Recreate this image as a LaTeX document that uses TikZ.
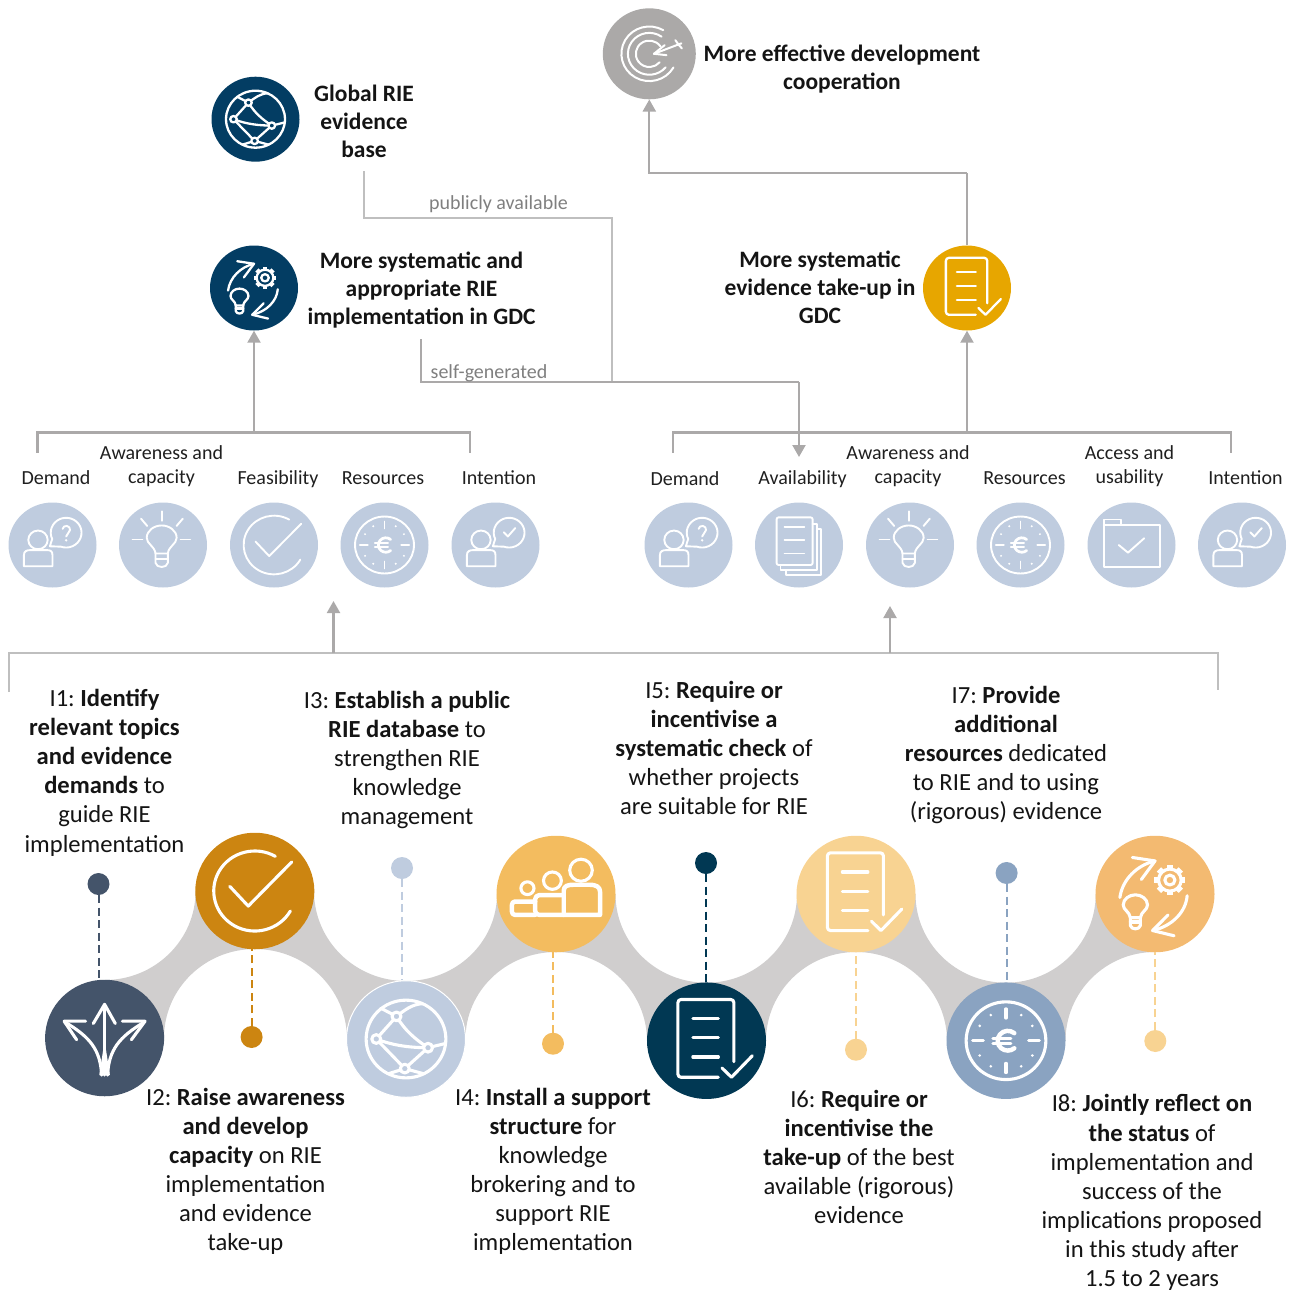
\documentclass[tikz,border=0pt]{standalone}
\usepackage{fontspec}
\setmainfont{Carlito}
\usepackage{tikz}
\usetikzlibrary{arrows.meta,shapes,positioning,calc}
\definecolor{bandgrey}{HTML}{D0CECE}
\definecolor{linegrey}{HTML}{ABA9A9}
\definecolor{thingrey}{HTML}{BFBFBF}
\definecolor{notegrey}{HTML}{7F7F7F}
\definecolor{goalgrey}{HTML}{ABA9A8}
\definecolor{navyblue}{HTML}{033D63}
\definecolor{deepblue}{HTML}{013853}
\definecolor{slateblue}{HTML}{44546A}
\definecolor{paleblue}{HTML}{BFCCDF}
\definecolor{midblue}{HTML}{8AA3C1}
\definecolor{goldyellow}{HTML}{E7A600}
\definecolor{darkamber}{HTML}{CC8511}
\definecolor{amber}{HTML}{F3BC5F}
\definecolor{paleamber}{HTML}{F8D392}
\definecolor{softorange}{HTML}{F3BA71}

\tikzset{
    pics/bulbshape/.style={code={
        \draw (-.14,-.2) .. controls (-.16,-.02) and (-.34,.02) .. (-.34,.17)
            .. controls (-.34,.34) and (-.17,.46) .. (0,.46)
            .. controls (.17,.46) and (.34,.34) .. (.34,.17)
            .. controls (.34,.02) and (.16,-.02) .. (.14,-.2) -- cycle;
        \draw (-.14,-.2) -- (-.14,-.42) .. controls (-.12,-.55) and (.12,-.55) .. (.14,-.42) -- (.14,-.2);
        \draw (-.14,-.32) -- (.14,-.32);
    }},
    pics/iconbulb/.style={code={
        \pic[transform shape] at (-.03,0) {bulbshape};
        \draw (-.03,.79) -- (-.03,.57);
        \draw (-.5,.62) -- (-.36,.45);
        \draw (.45,.62) -- (.31,.45);
        \draw (-.69,.13) -- (-.47,.13);
        \draw (.4,.13) -- (.62,.13);
    }},
    pics/iconcheck/.style={code={
        \draw (60:.69) arc[start angle=60,end angle=330,radius=.69];
        \draw (-.42,.08) -- (-.11,-.26) -- (.62,.5);
    }},
    pics/iconeuro/.style={code={
        \draw (0,0) circle[radius=.67];
        \draw (0,.55) -- (0,.39);
        \draw (0,-.55) -- (0,-.39);
        \draw (-.56,0) -- (-.38,0);
        \draw (.56,0) -- (.38,0);
        \foreach \a in {30,60,120,150,210,240,300,330}
            \fill (\a:.51) circle[radius=.025];
        \draw[line width=1.2\pgflinewidth] ($(.03,0)+(50:.17)$) arc[start angle=50,end angle=310,radius=.17];
        \draw (-.22,.04) -- (.08,.04);
        \draw (-.22,-.05) -- (.08,-.05);
    }},
    pics/personshape/.style={code={
        \draw (-.33,.12) circle[radius=.22];
        \draw (-.65,-.5) -- (-.65,-.24) .. controls (-.65,-.14) and (-.58,-.12) .. (-.5,-.12) -- (-.13,-.12)
            .. controls (-.05,-.12) and (0,-.14) .. (0,-.24) -- (0,-.5) -- cycle;
        \draw (.31,.29) ++(205:.35) arc[start angle=205,end angle=-110,radius=.35] -- (-.06,-.03) -- cycle;
    }},
    pics/iconask/.style={code={
        \pic[transform shape] {personshape};
        \draw (.23,.38) arc[start angle=170,end angle=-50,radius=.085] -- (.31,.2);
        \fill (.31,.11) circle[radius=.03];
    }},
    pics/iconwill/.style={code={
        \pic[transform shape] {personshape};
        \draw (.19,.3) -- (.28,.2) -- (.45,.4);
    }},
    pics/iconstack/.style={code={
        \draw[rounded corners=2pt] (-.51,.65) rectangle (.31,-.47);
        \draw (-.33,.43) -- (.12,.43);
        \draw (-.33,.12) -- (.12,.12);
        \draw (-.33,-.2) -- (.12,-.2);
        \draw (.31,.5) -- (.41,.5) -- (.41,-.59) -- (-.42,-.59) -- (-.42,-.47);
        \draw (.41,.38) -- (.5,.38) -- (.5,-.7) -- (-.3,-.7) -- (-.3,-.59);
    }},
    pics/iconfolder/.style={code={
        \draw (-.63,-.51) -- (-.63,.6) -- (-.24,.6) -- (-.24,.47) -- (.64,.47) -- (.64,-.51) -- cycle;
        \draw (-.63,.47) -- (-.24,.47);
        \draw (-.29,0) -- (-.08,-.18) -- (.29,.16);
    }},
    pics/icondoc/.style={code={
        \draw[rounded corners=3pt] (.46,-.36) -- (.46,.71) -- (-.48,.71) -- (-.48,-.63) -- (.2,-.63);
        \draw (-.23,.38) -- (.2,.38);
        \draw (-.23,.05) -- (.2,.05);
        \draw (-.23,-.28) -- (.2,-.28);
        \draw (.26,-.47) -- (.42,-.63) -- (.77,-.26);
    }},
    pics/icontarget/.style={code={
        \draw (60:.6) arc[start angle=60,end angle=330,radius=.6];
        \draw (55:.46) arc[start angle=55,end angle=320,radius=.46];
        \draw (35:.29) arc[start angle=35,end angle=320,radius=.29];
        \draw (.69,.23) -- (.1,0);
        \draw (.1,0) -- (.33,.19);
        \draw (.1,0) -- (.37,-.03);
        \draw (.56,.3) -- (.63,.2) -- (.7,.12);
    }},
    pics/iconglobe/.style={code={
        \draw (0,0) circle[radius=.67];
        \draw (-.16,.39) -- (-.42,.53);
        \draw (-.16,.39) .. controls (-.02,.5) and (.1,.6) .. (.28,.61);
        \draw (-.16,.39) .. controls (-.02,.15) and (.15,0) .. (.37,-.15);
        \draw (-.5,0) -- (-.16,.39);
        \draw (-.5,0) .. controls (-.2,-.12) and (.1,-.15) .. (.37,-.15);
        \draw (-.5,0) -- (-.02,-.51);
        \draw (.37,-.15) -- (-.02,-.51);
        \draw (.37,-.15) -- (.65,-.08);
        \draw (-.02,-.51) -- (-.3,-.6);
        \draw (-.02,-.51) -- (.3,-.6);
        \draw[fill=#1] (-.16,.39) circle[radius=.075];
        \draw[fill=#1] (-.5,0) circle[radius=.075];
        \draw[fill=#1] (.37,-.15) circle[radius=.075];
        \draw[fill=#1] (-.02,-.51) circle[radius=.075];
    }},
    pics/iconcycle/.style={code={
        \draw (.25,.24) circle[radius=.085];
        \draw (.25,.24) circle[radius=.19];
        \foreach \a in {0,45,...,315}
            \draw[line width=1.4\pgflinewidth,line cap=butt] ($(.25,.24)+(\a:.19)$) -- ($(.25,.24)+(\a:.26)$);
        \pic[transform shape,scale=.6] at (-.33,-.29) {bulbshape};
        \draw (-.59,-.06) .. controls (-.55,.25) and (-.3,.5) .. (0,.57);
        \draw (-.38,.63) -- (0,.57) -- (-.23,.25);
        \draw (.54,-.03) .. controls (.52,-.3) and (.3,-.55) .. (-.04,-.63);
        \draw (.22,-.36) -- (-.04,-.63) -- (.32,-.72);
    }},
    pics/iconarrows/.style={code={
        \fill (-.09,-.64) -- (.09,-.64) -- (0,-.05) -- cycle;
        \draw (0,-.64) -- (0,.58);
        \draw (-.19,.25) -- (0,.58) -- (.18,.25);
        \draw (-.05,-.64) .. controls (-.07,-.2) and (-.25,.02) .. (-.66,.27);
        \draw (.05,-.64) .. controls (.07,-.2) and (.25,.02) .. (.66,.27);
        \draw (-.32,.29) -- (-.68,.29) -- (-.47,-.03);
        \draw (.3,.29) -- (.68,.29) -- (.45,-.03);
    }},
    pics/iconpeople/.style={code={
        \draw (.42,.41) circle[radius=.19];
        \draw[line width=1.2\pgflinewidth] (.13,-.36) -- (.13,.06) .. controls (.13,.14) and (.2,.16) .. (.3,.16)
            .. controls (.38,.16) and (.46,.16) .. (.56,.16) .. controls (.68,.16) and (.74,.12) .. (.74,.04) -- (.74,-.36) -- cycle;
        \draw (-.06,.23) circle[radius=.15];
        \draw[line width=1.2\pgflinewidth,rounded corners=4pt] (.13,-.02) -- (-.35,-.02) -- (-.35,-.36) -- (.13,-.36);
        \draw (-.48,.1) circle[radius=.11];
        \draw[line width=1.2\pgflinewidth,rounded corners=3pt] (-.35,-.13) -- (-.74,-.13) -- (-.74,-.36) -- (-.35,-.36);
    }}
}

\begin{document}
\begin{tikzpicture}[
    x=1pt,y=1pt,
    blob/.style={ellipse, inner sep=0pt, minimum width=88pt, minimum height=85pt, fill=#1},
    goalblob/.style={ellipse, inner sep=0pt, minimum width=93pt, minimum height=91pt, fill=#1},
    bigblob/.style={ellipse, inner sep=0pt, minimum width=119pt, minimum height=116.5pt, fill=#1},
    dot/.style={circle, inner sep=0pt, minimum size=22pt, fill=#1},
    smallicon/.style={xscale=44, yscale=42.5, line width=1.9pt, white, line cap=round, line join=round},
    midicon/.style={xscale=44, yscale=42.5, line width=2.3pt, white, line cap=round, line join=round},
    goalicon/.style={xscale=46.5, yscale=45.5, line width=2pt, white, line cap=round, line join=round},
    bigicon/.style={xscale=59.5, yscale=58, line width=3.1pt, white, line cap=round, line join=round},
    bodytxt/.style={inner sep=0pt, yshift=-4.5pt, align=center, text=black!92, font=\fontsize{24.6}{29.1}\selectfont\frenchspacing,
        execute at begin node=\strut, execute at end node=\strut},
    headtxt/.style={inner sep=0pt, yshift=-3.8pt, align=center, text=black!92, font=\fontsize{23.5}{28}\selectfont\bfseries,
        execute at begin node=\strut, execute at end node=\strut},
    factortxt/.style={inner sep=0pt, yshift=-3pt, align=center, text=black!88, font=\fontsize{20}{24}\selectfont,
        execute at begin node=\strut, execute at end node=\strut},
    notetxt/.style={inner sep=0pt, yshift=-1.5pt, text=notegrey, font=\fontsize{20}{24}\selectfont},
    mainline/.style={draw=linegrey, line width=2.1pt},
    thinline/.style={draw=thingrey, line width=1.6pt},
    tiparrow/.style={mainline, -{Triangle[width=13pt,length=12pt]}},
    dashline/.style={draw=#1, line width=2pt, dash pattern=on 8pt off 4.5pt}
]
    \useasboundingbox (0,0) rectangle (1291,-1291);

    \fill[bandgrey] (104.6,-980) arc[start angle=270,end angle=360,x radius=91,y radius=89]
        -- (314,-891) arc[start angle=180,end angle=270,x radius=92,y radius=90]
        arc[start angle=270,end angle=360,x radius=91,y radius=87]
        -- (615.5,-894) arc[start angle=180,end angle=270,x radius=91,y radius=88.7]
        arc[start angle=270,end angle=360,x radius=90.5,y radius=88.7]
        -- (915.5,-894) arc[start angle=180,end angle=270,x radius=90.5,y radius=88.7]
        arc[start angle=270,end angle=360,x radius=89.7,y radius=88.7]
        -- (1155,-894) -- (1155,-952) arc[start angle=90,end angle=180,x radius=89.5,y radius=89]
        -- (947,-1041) arc[start angle=0,end angle=90,x radius=91,y radius=89]
        arc[start angle=90,end angle=180,x radius=90,y radius=89]
        -- (647,-1041) arc[start angle=0,end angle=90,x radius=91,y radius=89]
        arc[start angle=90,end angle=180,x radius=90.5,y radius=87]
        -- (347,-1039) arc[start angle=0,end angle=90,x radius=92.2,y radius=90]
        arc[start angle=90,end angle=180,x radius=90.8,y radius=89]
        -- (104.6,-1038) -- cycle;

    \node[goalblob=goalgrey] (goal) at (649.3,-53.8) {};
    \node[blob=navyblue] (globe) at (255.5,-119.2) {};
    \node[blob=navyblue] (impl) at (254,-288) {};
    \node[blob=goldyellow] (takeup) at (967,-288) {};
    \pic[goalicon] at (goal) {icontarget};
    \pic[midicon] at (globe) {iconglobe=navyblue};
    \pic[midicon] at (impl) {iconcycle};
    \pic[midicon] at (takeup) {icondoc};

    \node[headtxt] (goaltxt) at (842,-68) {More effective development\\cooperation};
    \node[headtxt] (globetxt) at (364,-122) {Global RIE\\evidence\\base};
    \node[headtxt] (impltxt) at (421.5,-289) {More systematic and\\appropriate RIE\\implementation in GDC};
    \node[headtxt] (takeuptxt) at (820,-288) {More systematic\\evidence take-up in\\GDC};

    \node[blob=paleblue] (la) at (52.5,-545) {};
    \node[blob=paleblue] (lb) at (163,-545) {};
    \node[blob=paleblue] (lc) at (274,-545) {};
    \node[blob=paleblue] (ld) at (384.5,-545) {};
    \node[blob=paleblue] (le) at (495.5,-545) {};
    \pic[smallicon] at (la) {iconask};
    \pic[smallicon] at (lb) {iconbulb};
    \pic[smallicon] at (lc) {iconcheck};
    \pic[smallicon] at (ld) {iconeuro};
    \pic[smallicon] at (le) {iconwill};

    \node[blob=paleblue] (ra) at (688.5,-545) {};
    \node[blob=paleblue] (rb) at (799,-545) {};
    \node[blob=paleblue] (rc) at (910,-545) {};
    \node[blob=paleblue] (rd) at (1020.5,-545) {};
    \node[blob=paleblue] (re) at (1131.5,-545) {};
    \node[blob=paleblue] (rf) at (1242,-545) {};
    \pic[smallicon] at (ra) {iconask};
    \pic[smallicon] at (rb) {iconstack};
    \pic[smallicon] at (rc) {iconbulb};
    \pic[smallicon] at (rd) {iconeuro};
    \pic[smallicon] at (re) {iconfolder};
    \pic[smallicon] at (rf) {iconwill};

    \node[factortxt] (latxt) at (56,-477) {Demand};
    \node[factortxt] (lbtxt) at (161.5,-465) {Awareness and\\capacity};
    \node[factortxt] (lctxt) at (278,-477) {Feasibility};
    \node[factortxt] (ldtxt) at (383,-477) {Resources};
    \node[factortxt] (letxt) at (499,-477) {Intention};
    \node[factortxt] (ratxt) at (685,-478) {Demand};
    \node[factortxt] (rbtxt) at (802.5,-477) {Availability};
    \node[factortxt] (rctxt) at (908,-465) {Awareness and\\capacity};
    \node[factortxt] (rdtxt) at (1024.5,-477) {Resources};
    \node[factortxt] (retxt) at (1129.5,-465) {Access and\\usability};
    \node[factortxt] (rftxt) at (1245.5,-477) {Intention};

    \coordinate (lbrkl) at (37.5,-452.5);
    \coordinate (lbrkr) at (470,-452.5);
    \coordinate (lbrkt) at (254,-432.5);
    \coordinate (rbrkl) at (673,-452.5);
    \coordinate (rbrkr) at (1231,-452.5);
    \coordinate (rbrkt) at (967,-432.5);
    \draw[mainline] (lbrkl) |- (lbrkt) -| (lbrkr);
    \draw[mainline] (rbrkl) |- (rbrkt) -| (rbrkr);
    \draw[tiparrow] (lbrkt) -- (impl.south);
    \draw[tiparrow] (rbrkt) -- (takeup.south);
    \coordinate (goalelbow) at (967,-173);
    \draw[mainline] (takeup.north) -- (goalelbow);
    \draw[tiparrow] (goalelbow) -| (goal.south);

    \coordinate (pubstart) at (364,-171);
    \coordinate (pubelbow) at (612,-218);
    \coordinate (pubend) at (612,-381);
    \draw[thinline] (pubstart) |- (pubelbow) -- (pubend);
    \node[notetxt] (pubtxt) at (498.5,-203) {publicly available};
    \coordinate (selfstart) at (421,-339);
    \coordinate (selfelbow) at (799,-382);
    \coordinate (selfend) at (799,-457);
    \draw[mainline] (selfstart) |- (selfelbow);
    \draw[tiparrow] (selfelbow) -- (selfend);
    \node[notetxt] (selftxt) at (489,-372) {self-generated};

    \coordinate (ibrkl) at (9,-692);
    \coordinate (ibrkr) at (1218,-690);
    \coordinate (ibrkt) at (333.5,-653);
    \coordinate (ibrku) at (890,-653);
    \coordinate (leftup) at (333.5,-601);
    \coordinate (rightup) at (890,-606);
    \draw[thinline] (ibrkl) |- (ibrkt) -- (ibrku) -| (ibrkr);
    \draw[tiparrow] (ibrkt) -- (leftup);
    \draw[tiparrow] (ibrku) -- (rightup);

    \node[bigblob=slateblue] (ia) at (104.6,-1038) {};
    \node[bigblob=darkamber] (ib) at (254.8,-891) {};
    \node[bigblob=paleblue, draw=white, line width=1pt] (ic) at (406,-1039) {};
    \node[bigblob=amber] (id) at (556,-894) {};
    \node[bigblob=deepblue] (ie) at (706.5,-1040.7) {};
    \node[bigblob=paleamber] (if) at (856,-894) {};
    \node[bigblob=midblue] (ig) at (1006,-1040.7) {};
    \node[bigblob=softorange] (ih) at (1155,-894) {};
    \pic[bigicon] at (ia) {iconarrows};
    \pic[bigicon] at (ib) {iconcheck};
    \pic[bigicon] at (ic) {iconglobe=paleblue};
    \pic[bigicon] at (id) {iconpeople};
    \pic[bigicon] at (ie) {icondoc};
    \pic[bigicon] at (if) {icondoc};
    \pic[bigicon] at (ig) {iconeuro};
    \pic[bigicon] at (ih) {iconcycle};

    \node[dot=slateblue] (da) at (98.5,-884) {};
    \node[dot=darkamber] (db) at (251.6,-1037) {};
    \node[dot=paleblue] (dc) at (402,-868) {};
    \node[dot=amber] (dd) at (553,-1043.7) {};
    \node[dot=deepblue] (de) at (706,-863) {};
    \node[dot=paleamber] (df) at (856,-1049.7) {};
    \node[dot=midblue] (dg) at (1006.6,-873) {};
    \node[dot=paleamber] (dh) at (1155.3,-1041) {};
    \draw[dashline=slateblue] (da) -- (da |- ia.north);
    \draw[dashline=darkamber] (db) -- (db |- ib.south);
    \draw[dashline=paleblue] (dc) -- (dc |- ic.north);
    \draw[dashline=amber] (dd) -- (dd |- id.south);
    \draw[dashline=deepblue] (de) -- (de |- ie.north);
    \draw[dashline=paleamber] (df) -- (df |- if.south);
    \draw[dashline=midblue] (dg) -- (dg |- ig.north);
    \draw[dashline=paleamber] (dh) -- (dh |- ih.south);

    \node[bodytxt] (ta) at (104.5,-770.5) {I1: \textbf{Identify}\\\textbf{relevant topics}\\\textbf{and evidence}\\\textbf{demands} to\\guide RIE\\implementation};
    \node[bodytxt] (tb) at (245.5,-1169) {I2: \textbf{Raise awareness}\\\textbf{and develop}\\\textbf{capacity} on RIE\\implementation\\and evidence\\take-up};
    \node[bodytxt] (tc) at (407,-758) {I3: \textbf{Establish a public}\\\textbf{RIE database} to\\strengthen RIE\\knowledge\\management};
    \node[bodytxt] (td) at (553,-1169) {I4: \textbf{Install a support}\\\textbf{structure} for\\knowledge\\brokering and to\\support RIE\\implementation};
    \node[bodytxt] (te) at (714,-747.5) {I5: \textbf{Require or}\\\textbf{incentivise a}\\\textbf{systematic check} of\\whether projects\\are suitable for RIE};
    \node[bodytxt] (tf) at (859,-1157) {I6: \textbf{Require or}\\\textbf{incentivise the}\\\textbf{take-up} of the best\\available (rigorous)\\evidence};
    \node[bodytxt] (tg) at (1006,-752.5) {I7: \textbf{Provide}\\\textbf{additional}\\\textbf{resources} dedicated\\to RIE and to using\\(rigorous) evidence};
    \node[bodytxt, execute at end node={}] (th) at (1152,-1190.5) {I8: \textbf{Jointly reflect on}\\\textbf{the status} of\\implementation and\\success of the\\implications proposed\\in this study after\\1.5 to 2 years};
\end{tikzpicture}
\end{document}
